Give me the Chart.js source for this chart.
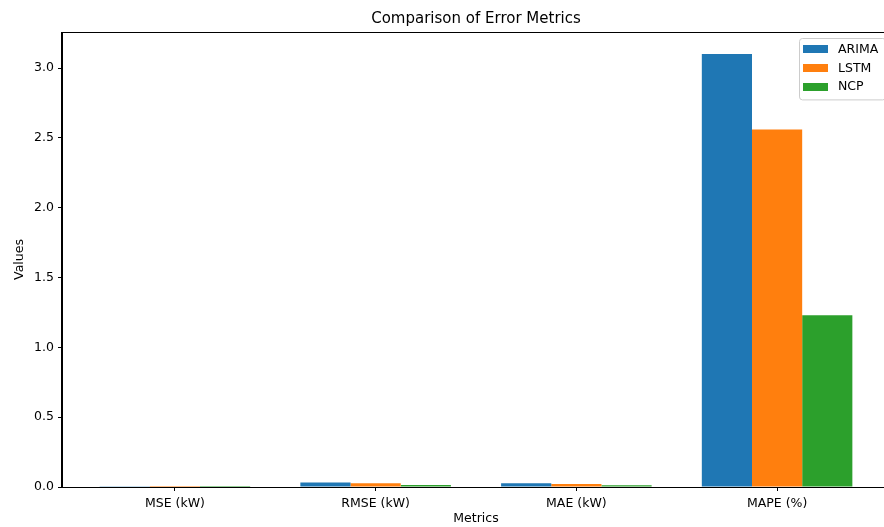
<!DOCTYPE html>
<html>
<head>
<meta charset="utf-8">
<script src="https://cdn.jsdelivr.net/npm/chart.js@4.4.1/dist/chart.umd.min.js"></script>
<style>
  html, body { margin: 0; padding: 0; background: #fff; overflow: hidden; }
  /* the plot's right edge runs a few pixels past the visible frame */
  #wrap { width: 884px; height: 527px; position: relative; overflow: hidden; }
  #c { position: absolute; left: 0; top: 0; }
</style>
</head>
<body>
<div id="wrap"><canvas id="c" width="891" height="527" style="width:891px;height:527px"></canvas></div>
<script>
// Error metrics per model
const categories = ['MSE (kW)', 'RMSE (kW)', 'MAE (kW)', 'MAPE (%)'];
const arimaValues = [0.001, 0.032, 0.026, 3.10];
const lstmValues  = [0.0007, 0.026, 0.021, 2.56];
const ncpValues   = [0.0002, 0.014, 0.012, 1.23];
const seriesNames = ['ARIMA', 'LSTM', 'NCP'];
const yTicks = [0, 0.5, 1.0, 1.5, 2.0, 2.5, 3.0];

const colors = ['#1f77b4', '#ff7f0e', '#2ca02c'];
const FONT = "'DejaVu Sans', sans-serif";
const TICK_SIZE = 12.5;

const toPoints = vals => vals.map((v, i) => ({ x: i, y: v }));

// frame around the plot area (all four spines)
const framePlugin = {
  id: 'frame',
  afterDatasetsDraw(chart) {
    const { ctx, chartArea: a } = chart;
    ctx.save();
    ctx.strokeStyle = '#000';
    ctx.lineWidth = 1;
    ctx.strokeRect(Math.round(a.left) - 0.5, Math.round(a.top) + 0.5,
                   Math.round(a.right - a.left), Math.round(a.bottom - a.top));
    ctx.restore();
  }
};

// legend box in the upper right corner of the plot
const insetLegend = {
  id: 'insetLegend',
  afterDraw(chart) {
    const { ctx, chartArea: a } = chart;
    const ds = chart.data.datasets;
    ctx.save();
    ctx.font = TICK_SIZE + 'px ' + FONT;
    const textW = Math.max(...ds.map(d => ctx.measureText(d.label).width));
    const rowH = 18.8;
    const boxW = 4 + 25 + 10 + textW + 7;
    const boxH = ds.length * rowH + 5;
    const x0 = Math.round(a.right - 5 - boxW);
    const y0 = a.top + 5.5;
    ctx.fillStyle = 'rgba(255,255,255,0.8)';
    ctx.strokeStyle = '#cccccc';
    ctx.lineWidth = 1;
    ctx.beginPath();
    ctx.roundRect(x0 + 0.5, Math.round(y0) + 0.5, boxW, boxH, 3);
    ctx.fill();
    ctx.stroke();
    ds.forEach((d, i) => {
      const cy = y0 + 11.5 + i * rowH;
      ctx.fillStyle = d.backgroundColor;
      ctx.fillRect(x0 + 4, Math.round(cy - 4), 25, 8);
      ctx.fillStyle = '#000';
      ctx.textBaseline = 'middle';
      ctx.textAlign = 'left';
      ctx.fillText(d.label, x0 + 39, cy + 0.5);
    });
    ctx.restore();
  }
};

new Chart(document.getElementById('c'), {
  type: 'bar',
  data: {
    datasets: [arimaValues, lstmValues, ncpValues].map((vals, k) => ({
      label: seriesNames[k],
      data: toPoints(vals),
      backgroundColor: colors[k],
      borderWidth: 0,
      categoryPercentage: 0.75,
      barPercentage: 1.0
    }))
  },
  options: {
    responsive: false,
    animation: false,
    layout: { padding: { left: 0, right: 1, top: 0, bottom: 0 } },
    plugins: {
      legend: { display: false },
      tooltip: { enabled: false },
      title: {
        display: true,
        fullSize: false,
        text: 'Comparison of Error Metrics',
        color: '#000',
        font: { family: FONT, size: 15, weight: 'normal' },
        padding: { top: 10, bottom: 4 }
      }
    },
    scales: {
      x: {
        type: 'linear',
        min: -0.5625,
        max: 3.5625,
        offset: false,
        afterBuildTicks: axis => { axis.ticks = categories.map((_, i) => ({ value: i })); },
        afterFit: s => { s.height = 40; s.paddingLeft = 0; s.paddingRight = 0; },
        ticks: {
          callback: v => categories[v],
          color: '#000',
          font: { family: FONT, size: TICK_SIZE },
          padding: 5,
          maxRotation: 0,
          autoSkip: false
        },
        grid: { display: true, offset: false, drawOnChartArea: false, drawTicks: true, tickLength: 4, color: '#000' },
        border: { display: true, color: '#000' },
        title: {
          display: true, text: 'Metrics', color: '#000',
          font: { family: FONT, size: TICK_SIZE },
          padding: { top: 2, bottom: 1 }
        }
      },
      y: {
        min: 0,
        max: 3.258,
        afterBuildTicks: axis => { axis.ticks = yTicks.map(v => ({ value: v })); },
        afterFit: s => { s.width = 62; s.paddingTop = 0; s.paddingBottom = 0; },
        ticks: {
          callback: v => Number(v).toFixed(1),
          color: '#000',
          font: { family: FONT, size: TICK_SIZE },
          padding: 4
        },
        grid: { display: true, drawOnChartArea: false, drawTicks: true, tickLength: 4, color: '#000' },
        border: { display: true, color: '#000' },
        title: {
          display: true, text: 'Values', color: '#000',
          font: { family: FONT, size: TICK_SIZE },
          padding: { top: 12, bottom: 4 }
        }
      }
    }
  },
  plugins: [framePlugin, insetLegend]
});
</script>
</body>
</html>
